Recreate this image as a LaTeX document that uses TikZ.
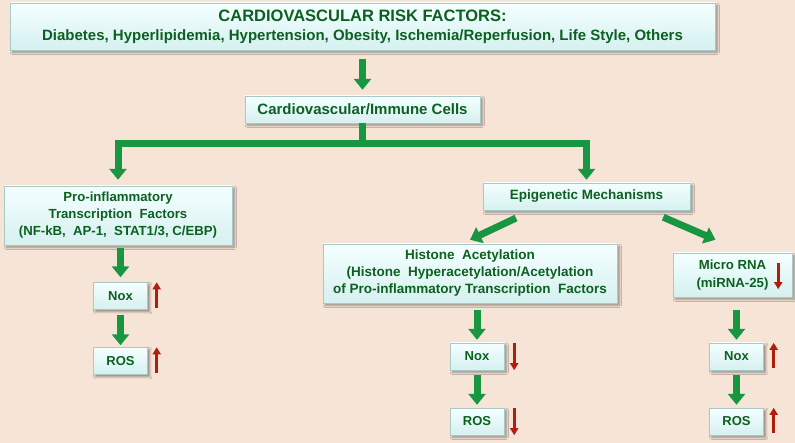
\documentclass[tikz,border=0pt]{standalone}
\usepackage{fontspec}
\setmainfont{Liberation Sans}
\usetikzlibrary{arrows.meta,shadows.blur}
\definecolor{peach}{RGB}{246,228,215}
\definecolor{boxtop}{RGB}{244,255,255}
\definecolor{boxbot}{RGB}{214,240,240}
\definecolor{boxedge}{RGB}{170,200,200}
\definecolor{darkgreen}{RGB}{12,96,32}
\definecolor{arrowgreen}{RGB}{24,150,66}
\definecolor{arrowred}{RGB}{175,30,15}

\begin{document}
\begin{tikzpicture}[x=1pt, y=-1pt,
  box/.style={rectangle, draw=boxedge, top color=boxtop, bottom color=boxbot, align=center, text=darkgreen,
    inner sep=2pt, font=\bfseries,
    blur shadow={shadow blur steps=4, shadow xshift=0.8mm, shadow yshift=-0.8mm}},
  small/.style={box, minimum width=54pt, minimum height=27pt, font=\bfseries\fontsize{13}{15}\selectfont},
  garr/.style={-{Triangle[length=11pt,width=17pt]}, line width=7pt, draw=arrowgreen},
  rarr/.style={-{Triangle[length=7pt,width=8pt]}, line width=2.6pt, draw=arrowred}
]
  \useasboundingbox (0,0) rectangle (795,443);
  \fill[peach] (0,0) rectangle (795,443);

  \node[box, minimum width=705pt, minimum height=47pt, font=\bfseries\fontsize{15}{18}\selectfont] (risk) at (362.5,26.5)
    {{\fontsize{16.5}{18}\selectfont CARDIOVASCULAR RISK FACTORS:}\\[1pt]
     Diabetes, Hyperlipidemia, Hypertension, Obesity, Ischemia/Reperfusion, Life Style, Others};
  \node[box, minimum width=235pt, minimum height=27pt, font=\bfseries\fontsize{15}{17}\selectfont] (cell) at (362.5,109.5) {Cardiovascular/Immune Cells};

  \node[box, minimum width=228pt, minimum height=59pt, font=\bfseries\fontsize{13.2}{17}\selectfont] (pro) at (118,215.5)
    {Pro-inflammatory\\Transcription\ \ Factors\\(NF-kB,\ \ AP-1,\ \ STAT1/3, C/EBP)};
  \node[box, minimum width=207pt, minimum height=27pt, font=\bfseries\fontsize{13.5}{15}\selectfont] (epi) at (586.5,196.5) {Epigenetic Mechanisms};
  \node[box, minimum width=294pt, minimum height=59pt, font=\bfseries\fontsize{13.5}{17}\selectfont] (hist) at (470,273.5)
    {Histone\ \ Acetylation\\(Histone\ \ Hyperacetylation/Acetylation\\of Pro-inflammatory\ Transcription\ \ Factors};
  \node[box, minimum width=119pt, minimum height=44pt, font=\bfseries\fontsize{13.2}{18}\selectfont] (mirna) at (732.5,275) {Micro RNA\\(miRNA-25)};

  \node[small] (nox1) at (120.5,296) {Nox};
  \node[small] (ros1) at (120.5,361) {ROS};
  \node[small] (nox2) at (477,356.5) {Nox};
  \node[small] (ros2) at (477,421.5) {ROS};
  \node[small] (nox3) at (736.5,356.5) {Nox};
  \node[small] (ros3) at (736.5,421.5) {ROS};

  % green arrows
  \draw[garr, shorten <=9pt, shorten >=6pt] (risk) -- (cell);
  \draw[garr, shorten >=6pt] (cell.south) -- ++(0,20) -| (pro.north);
  \draw[garr, shorten >=3pt] (cell.south) -- ++(0,20) -| (epi.north);
  \draw[garr, shorten <=3pt, shorten >=5pt] (pro.south -| nox1) -- (nox1);
  \draw[garr, shorten <=5pt, shorten >=2pt] (nox1) -- (ros1);
  \draw[garr, shorten <=2pt] ([xshift=35pt,yshift=-7pt]epi.south west) -- ([yshift=4pt]hist.north);
  \draw[garr] ([xshift=-27pt,yshift=-7pt]epi.south east) -- ([xshift=-17pt,yshift=13pt]mirna.north);
  \draw[garr, shorten <=7pt, shorten >=3pt] (hist.south -| nox2) -- (nox2);
  \draw[garr, shorten <=5pt, shorten >=3pt] (nox2) -- (ros2);
  \draw[garr, shorten <=13pt, shorten >=3pt] (mirna.south -| nox3) -- (nox3);
  \draw[garr, shorten <=5pt, shorten >=3pt] (nox3) -- (ros3);

  % up / down markers
  \draw[rarr] ([xshift=9pt,yshift=2pt]nox1.south east) -- ([xshift=9pt]nox1.north east);
  \draw[rarr] ([xshift=9pt,yshift=2pt]ros1.south east) -- ([xshift=9pt]ros1.north east);
  \draw[rarr] ([xshift=10pt]nox2.north east) -- ([xshift=10pt]nox2.south east);
  \draw[rarr] ([xshift=10pt]ros2.north east) -- ([xshift=10pt]ros2.south east);
  \draw[rarr] ([xshift=10pt,yshift=2pt]nox3.south east) -- ([xshift=10pt]nox3.north east);
  \draw[rarr] ([xshift=10pt,yshift=2pt]ros3.south east) -- ([xshift=10pt]ros3.north east);
  \draw[rarr] ([xshift=-14pt,yshift=-10pt]mirna.north east) -- ([xshift=-14pt,yshift=8pt]mirna.south east);
\end{tikzpicture}
\end{document}
